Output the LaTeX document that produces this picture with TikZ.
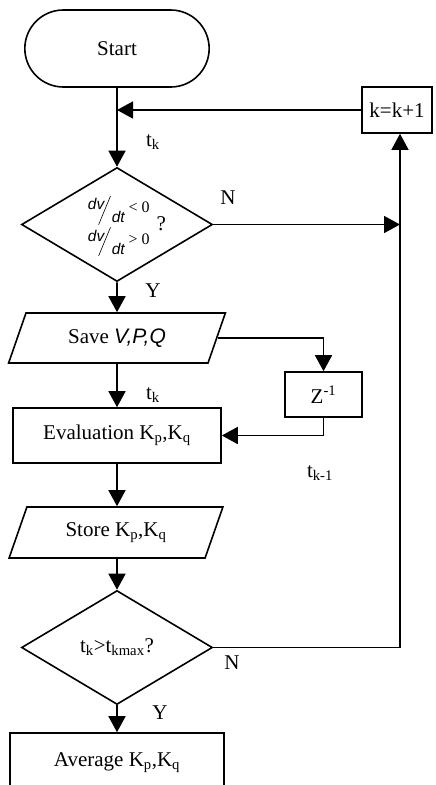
\documentclass[tikz,border=0pt]{standalone}
\usepackage{fontspec}
\setmainfont{Liberation Serif}
\setsansfont{Liberation Sans}
\usetikzlibrary{shapes.geometric,shapes.misc,arrows.meta}

\newcommand{\tsub}[1]{\textsubscript{#1}}
\newcommand{\dvdt}{{\fontsize{15.5}{17}\selectfont\sffamily\itshape\raisebox{3pt}{dv}\kern-6pt\raisebox{-12pt}{\rotatebox{67.5}{\rule{31pt}{0.6pt}}}\kern1pt\raisebox{-10pt}{dt}}}

\begin{document}
\begin{tikzpicture}[x=1pt,y=-1pt,line width=1.6pt,
  every node/.style={font=\fontsize{21}{25}\selectfont},
  box/.style={draw,rectangle,inner sep=0pt},
  io/.style={draw,trapezium,trapezium left angle=63.4,trapezium right angle=116.6,
    trapezium stretches=true,inner sep=0pt},
  decision/.style={draw,diamond,inner sep=0pt,minimum width=191pt,minimum height=114pt},
  flow/.style={-{Triangle[length=16pt,width=17pt]}}]

\useasboundingbox (0,0) rectangle (436,785);
\clip (0,0) rectangle (436,785);

\node[rounded rectangle,draw,minimum width=191pt,minimum height=77pt] (start) at (117,48.5) {Start};
\node[box,minimum width=70pt,minimum height=46pt] (kinc) at (397,110) {k=k+1};

\node[decision] (cond) at (117,224.5) {};
\node (condtxt) at (127,226) {{\fontsize{16}{18}\selectfont\begin{tabular}{@{}l@{}}\dvdt~< 0\\[9pt]\dvdt~> 0\end{tabular}}\hspace{7pt}?};

\node[io,minimum width=217pt,minimum height=50pt] (save) at (117,338) {Save {\sffamily\itshape V,P,Q}};
\node[box,minimum width=77pt,minimum height=45pt] (delay) at (323.5,394.5) {Z\textsuperscript{-1}};
\node[box,minimum width=208pt,minimum height=55pt] (eval) at (117,435.5) {Evaluation K\tsub{p},K\tsub{q}};
\node[io,minimum width=214pt,minimum height=51pt] (store) at (116,532.5) {Store K\tsub{p},K\tsub{q}};
\node[decision] (check) at (117,647.5) {t\tsub{k}>t\tsub{kmax}?};
\node[box,minimum width=214pt,minimum height=60pt] (avg) at (117,763) {Average K\tsub{p},K\tsub{q}};

\coordinate (loop) at (400,647.5);

\node (tka) at (153,142) {t\tsub{k}};
\node (n1) at (228,198) {N};
\node (y1) at (153,291) {Y};
\node (tkb) at (153,395) {t\tsub{k}};
\node (tkc) at (320,473) {t\tsub{k-1}};
\node (n2) at (232,663) {N};
\node (y2) at (160,713) {Y};

\draw[flow] (start.south) -- (cond.north);
\draw[flow] (kinc.west) -- (kinc.west -| start.south);
\draw[flow] (cond.east) -- (cond.east -| loop);
\draw[flow] (check.east) -- (loop) -- (loop |- kinc.south);
\draw[flow] (cond.south) -- (save.north);
\draw[flow] (save.south) -- (eval.north);
\draw[flow] (save.east) -| (delay.north);
\draw[flow] (delay.south) |- (eval.east);
\draw[flow] (eval.south) -- (eval.south |- store.north);
\draw[flow] (store.south -| check.north) -- (check.north);
\draw[flow] (check.south) -- (avg.north);

\end{tikzpicture}
\end{document}
